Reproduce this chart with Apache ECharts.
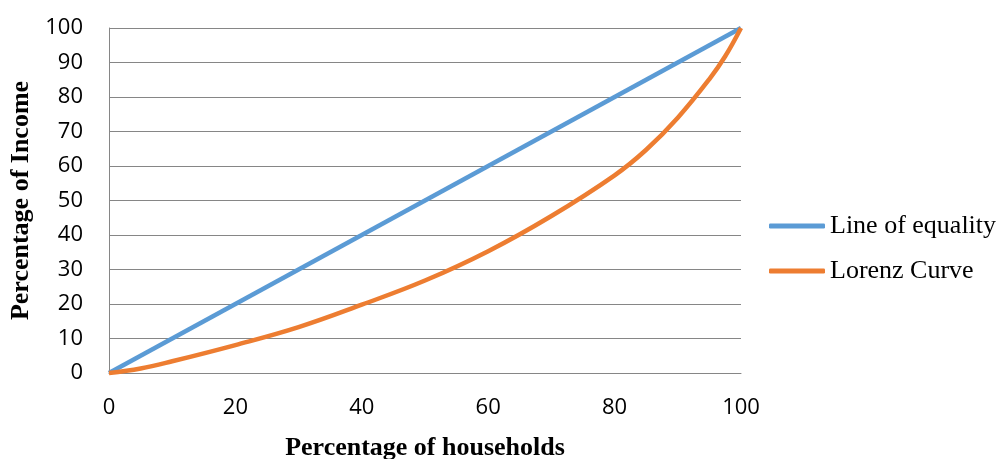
<!DOCTYPE html>
<html>
<head>
<meta charset="utf-8">
<script src="https://cdn.jsdelivr.net/npm/echarts@6/dist/echarts.min.js"></script>
<style>html,body{margin:0;padding:0;background:#fff}#c{width:1000px;height:459px}</style>
</head>
<body>
<div id="c"></div>
<script>
const seriesNames = ['Line of equality', 'Lorenz Curve'];
const equalityX = [0, 100];
const equalityY = [0, 100];
const lorenzX = [0, 5, 10, 20, 30, 40, 50, 60, 70, 80, 85, 90, 95, 97.5, 100];
const lorenzY = [0, 1.3, 3.4, 8.1, 13.3, 19.8, 26.8, 35.3, 45.5, 57.3, 64.7, 74, 85.2, 91.8, 100];
const xTicks = [0, 20, 40, 60, 80, 100];
const yTicks = [0, 10, 20, 30, 40, 50, 60, 70, 80, 90, 100];
const xTitle = 'Percentage of households';
const yTitle = 'Percentage of Income';

const chart = echarts.init(document.getElementById('c'));
const pair = (xs, ys) => xs.map((x, i) => [x, ys[i]]);
const grey = '#868686';
chart.setOption({
  animation: false,
  color: ['#5B9BD5', '#ED7D31'],
  grid: { left: 109, right: 259, top: 28, bottom: 86, containLabel: false, outerBoundsMode: 'none' },
  xAxis: {
    type: 'value', min: xTicks[0], max: xTicks[xTicks.length - 1], interval: 20,
    name: xTitle, nameLocation: 'middle', nameGap: 62,
    nameTextStyle: { fontFamily: 'Liberation Serif', fontWeight: 'bold', fontSize: 26, color: '#000' },
    axisLine: { show: true, lineStyle: { color: grey, width: 1 } },
    axisTick: { show: false },
    splitLine: { show: false },
    axisLabel: { fontFamily: 'Open Sans', fontSize: 22, color: '#000', margin: 24 }
  },
  yAxis: {
    type: 'value', min: yTicks[0], max: yTicks[yTicks.length - 1], interval: 10,
    name: yTitle, nameLocation: 'middle', nameGap: 74, nameRotate: 90,
    nameTextStyle: { fontFamily: 'Liberation Serif', fontWeight: 'bold', fontSize: 26, color: '#000' },
    axisLine: { show: true, lineStyle: { color: grey, width: 1 } },
    axisTick: { show: false },
    splitLine: { show: true, lineStyle: { color: grey, width: 1 } },
    axisLabel: { fontFamily: 'Open Sans', fontSize: 22, color: '#000', margin: 26 }
  },
  legend: {
    orient: 'vertical', left: 764, top: 208, itemGap: 19,
    icon: 'roundRect', itemWidth: 56, itemHeight: 5,
    textStyle: { fontFamily: 'Liberation Serif', fontSize: 26, color: '#000' },
    data: seriesNames
  },
  series: [
    { name: seriesNames[0], type: 'line', data: pair(equalityX, equalityY), showSymbol: false, clip: false,
      lineStyle: { width: 4.5 } },
    { name: seriesNames[1], type: 'line', data: pair(lorenzX, lorenzY), showSymbol: false, clip: false,
      smooth: 0.4, lineStyle: { width: 4.5 } }
  ]
});
</script>
</body>
</html>
